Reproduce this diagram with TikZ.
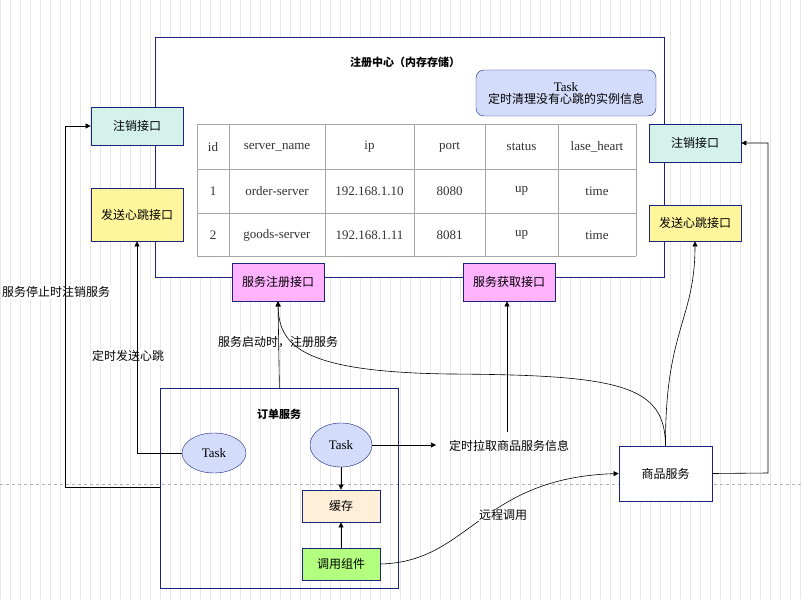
\documentclass[tikz,border=0pt]{standalone}
\usepackage{fontspec}
\setmainfont{Liberation Serif}
\newfontfamily\cjk{Noto Sans CJK SC}
\usetikzlibrary{arrows.meta,shapes.geometric}
\definecolor{bd}{HTML}{1A237E}
\definecolor{pk}{HTML}{FFB3FF}
\definecolor{yl}{HTML}{FFF59D}
\definecolor{mt}{HTML}{D5F2EA}
\definecolor{lb}{HTML}{D4DCFC}
\definecolor{cr}{HTML}{FFEFD9}
\definecolor{gr}{HTML}{B3FF80}
\begin{document}
\begin{tikzpicture}[x=1pt,y=-1pt,
  every node/.style={font=\fontsize{12}{14}\selectfont},
  box/.style={draw=bd,line width=0.8pt,minimum width=92pt,inner sep=0pt,font=\cjk\fontsize{12}{14}\selectfont},
  ell/.style={draw=bd,ellipse,fill=lb,inner sep=0pt,font=\fontsize{13}{15}\selectfont},
  lbl/.style={font=\cjk\fontsize{12}{14}\selectfont,fill=white,inner sep=1pt},
  arr/.style={draw,-{Triangle[length=5pt,width=5pt]},line width=0.6pt},
  cell/.style={font=\fontsize{13}{15}\selectfont,text=black!80}]
\useasboundingbox (0,0) rectangle (803,599);
\fill[white] (0,0) rectangle (803,599);
\draw[black!9,step=10] (0,0) grid (803,599);
\draw[black!30,dashed] (0,484) -- (803,484);
% registry
\node[draw=bd,line width=0.8pt,minimum width=509pt,minimum height=240pt,anchor=north west,fill=white] (reg) at (155,37) {};
\node[font=\cjk\bfseries\fontsize{11}{13}\selectfont] (title) at (405,62) {注册中心（内存存储）};
\node[draw=bd,rounded corners=8pt,fill=lb,minimum width=180pt,minimum height=46pt,align=center,inner sep=0pt] (rtask) at (566,93) {\fontsize{13}{14}\selectfont Task\\[-2pt]{\cjk 定时清理没有心跳的实例信息}};
% table
\foreach \x in {197,229,325,414,485,558,636}{\draw[black!35,line width=0.8pt] (\x,124) -- (\x,256);}
\foreach \y in {124,169,213,256}{\draw[black!35,line width=0.8pt] (197,\y) -- (636,\y);}
\node[cell] (h1) at (213,147) {id};
\node[cell] (h2) at (277,147) {server\_name};
\node[cell] (h3) at (369.5,147) {ip};
\node[cell] (h4) at (449.5,147) {port};
\node[cell] (h5) at (521.5,147) {status};
\node[cell] (h6) at (597,147) {lase\_heart};
\node[cell] (a1) at (213,191) {1};
\node[cell] (a2) at (277,191) {order-server};
\node[cell] (a3) at (369.5,191) {192.168.1.10};
\node[cell] (a4) at (449.5,191) {8080};
\node[cell] (a5) at (521.5,191) {up};
\node[cell] (a6) at (597,191) {time};
\node[cell] (b1) at (213,235) {2};
\node[cell] (b2) at (277,235) {goods-server};
\node[cell] (b3) at (369.5,235) {192.168.1.11};
\node[cell] (b4) at (449.5,235) {8081};
\node[cell] (b5) at (521.5,235) {up};
\node[cell] (b6) at (597,235) {time};
% interfaces
\node[box,fill=mt,minimum height=38pt] (lz) at (137,126) {注销接口};
\node[box,fill=yl,minimum height=53pt] (lx) at (137,214.5) {发送心跳接口};
\node[box,fill=mt,minimum height=38pt] (rz) at (695,143) {注销接口};
\node[box,fill=yl,minimum height=36pt] (rx) at (695,223) {发送心跳接口};
\node[box,fill=pk,minimum height=38pt] (zc) at (278,282) {服务注册接口};
\node[box,fill=pk,minimum height=38pt] (hq) at (509,282) {服务获取接口};
% order service
\node[draw=bd,line width=0.8pt,minimum width=238pt,minimum height=200pt,anchor=north west] (order) at (160,388) {};
\node[font=\cjk\bfseries\fontsize{11}{13}\selectfont] (otitle) at (279,414) {订单服务};
\node[ell,minimum width=64pt,minimum height=40pt] (t1) at (214,453) {Task};
\node[ell,minimum width=62pt,minimum height=44pt] (t2) at (341,445) {Task};
\node[box,fill=cr,minimum width=78pt,minimum height=32pt] (cache) at (341,506) {缓存};
\node[box,fill=gr,minimum width=78pt,minimum height=32pt] (call) at (341,564) {调用组件};
\node[box,fill=white,minimum width=93pt,minimum height=55pt] (goods) at (665.5,473.5) {商品服务};
% labels
\node[lbl] (l1) at (56,292) {服务停止时注销服务};
\node[lbl] (l2) at (128,356) {定时发送心跳};
\node[lbl] (l3) at (278,342) {服务启动时，注册服务};
\node[lbl,fill=none] (l4) at (509,446) {定时拉取商品服务信息};
\coordinate (p4) at (507,432);
% connectors
\draw[arr] (order.west |- 0,487) -- (65,487) -- (65,126) -- (lz.west);
\draw[arr] (t1.west) -- (137,453) -- (lx.south);
\draw[arr] (order.north) -- (zc.south);
\draw[arr] (t2.east) -- (436,445);
\draw[arr] (p4) -- (hq.south -| p4);
\draw[arr] (t2.south) -- (cache.north);
\draw[arr] (call.north) -- (cache.south);
\draw[arr] (call.east) .. controls (470,562) and (480,478) .. (goods.west);
\node[lbl] (l5) at (503,515) {远程调用};
\draw[arr] (goods.north) .. controls (665,385) and (620,375) .. (450,374) .. controls (300,372) and (279,345) .. (zc.south);
\draw[arr] (goods.north) .. controls (665,330) and (695,320) .. (rx.south);
\draw[arr] (goods.east) -- (768,473) -- (768,143) -- (rz.east);
\end{tikzpicture}
\end{document}
